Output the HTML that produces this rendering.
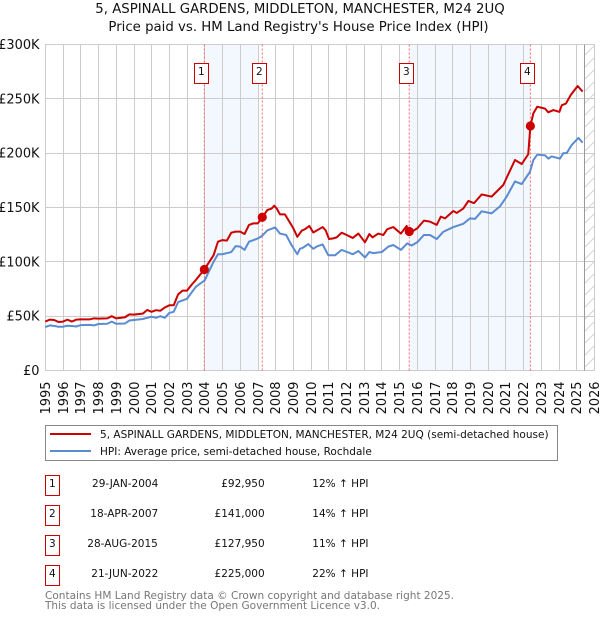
<!DOCTYPE html>
<html><head><meta charset="utf-8">
<style>
html,body{margin:0;padding:0;background:#fff;width:600px;height:620px;overflow:hidden}
svg{display:block}
text{font-family:"DejaVu Sans","Liberation Sans",sans-serif;fill:#111}
</style></head>
<body>
<svg id="chart" xmlns="http://www.w3.org/2000/svg" width="600" height="620" viewBox="0 0 600 620">
<defs><pattern id="hatch" patternUnits="userSpaceOnUse" width="12" height="12" x="584" y="8"><path d="M-1,13 L13,-1" stroke="#d4d4d4" stroke-width="1" fill="none"/></pattern></defs>
<text x="300" y="13" text-anchor="middle" font-size="13.3">5, ASPINALL GARDENS, MIDDLETON, MANCHESTER, M24 2UQ</text>
<text x="298.5" y="31" text-anchor="middle" font-size="13.3">Price paid vs. HM Land Registry's House Price Index (HPI)</text>
<g id="plot"></g>
<g>
<rect x="45.5" y="425.5" width="512" height="35" fill="#fff" stroke="#888" stroke-width="1"/>
<line x1="50" x2="91" y1="434" y2="434" stroke="#cc0000" stroke-width="2"/>
<text x="100" y="438" font-size="10.52">5, ASPINALL GARDENS, MIDDLETON, MANCHESTER, M24 2UQ (semi-detached house)</text>
<line x1="50" x2="91" y1="451" y2="451" stroke="#5b8bd0" stroke-width="2"/>
<text x="100" y="455" font-size="10.52">HPI: Average price, semi-detached house, Rochdale</text>
</g>
<g>
<g><rect x="45.5" y="475.5" width="14" height="20" fill="#fff" stroke="#cc0000"/><text x="52.3" y="487" text-anchor="middle" font-size="10.52">1</text><text x="92" y="487" font-size="10.52">29-JAN-2004</text><text x="264.7" y="487" text-anchor="end" font-size="10.52">£92,950</text><text x="312.3" y="487" font-size="10.52">12% ↑ HPI</text></g>
<g><rect x="45.5" y="505.5" width="14" height="20" fill="#fff" stroke="#cc0000"/><text x="52.3" y="517" text-anchor="middle" font-size="10.52">2</text><text x="90.3" y="517" font-size="10.52">18-APR-2007</text><text x="264.7" y="517" text-anchor="end" font-size="10.52">£141,000</text><text x="312.3" y="517" font-size="10.52">14% ↑ HPI</text></g>
<g><rect x="45.5" y="535.5" width="14" height="20" fill="#fff" stroke="#cc0000"/><text x="52.3" y="547" text-anchor="middle" font-size="10.52">3</text><text x="87.3" y="547" font-size="10.52">28-AUG-2015</text><text x="264.7" y="547" text-anchor="end" font-size="10.52">£127,950</text><text x="312.3" y="547" font-size="10.52">11% ↑ HPI</text></g>
<g><rect x="45.5" y="565.5" width="14" height="20" fill="#fff" stroke="#cc0000"/><text x="52.3" y="577" text-anchor="middle" font-size="10.52">4</text><text x="91.3" y="577" font-size="10.52">21-JUN-2022</text><text x="264.7" y="577" text-anchor="end" font-size="10.52">£225,000</text><text x="312.3" y="577" font-size="10.52">22% ↑ HPI</text></g>
</g>
<text x="45" y="599" font-size="10.52" style="fill:#777">Contains HM Land Registry data © Crown copyright and database right 2025.</text>
<text x="45" y="609" font-size="10.52" style="fill:#777">This data is licensed under the Open Government Licence v3.0.</text>
</svg>
<script>
const yearTicks = [1995,1996,1997,1998,1999,2000,2001,2002,2003,2004,2005,2006,2007,2008,2009,2010,2011,2012,2013,2014,2015,2016,2017,2018,2019,2020,2021,2022,2023,2024,2025,2026];
const valueTicks = [0,50,100,150,200,250,300];
const valueTickLabels = ['£0','£50K','£100K','£150K','£200K','£250K','£300K'];
const propertyDates = [1995,1995.25,1995.5,1995.75,1996,1996.25,1996.5,1996.75,1997,1997.5,1997.75,1998,1998.5,1998.75,1999,1999.5,1999.75,2000,2000.5,2000.75,2001,2001.25,2001.5,2001.75,2002,2002.25,2002.5,2002.75,2003,2003.25,2003.5,2003.98,2004.5,2004.75,2005,2005.25,2005.5,2005.75,2006,2006.25,2006.5,2006.75,2007,2007.25,2007.54,2007.78,2007.93,2008.07,2008.25,2008.53,2008.78,2009,2009.23,2009.48,2009.66,2009.91,2010.13,2010.66,2010.83,2011.02,2011.26,2011.45,2011.73,2012.02,2012.36,2012.68,2013.05,2013.3,2013.48,2013.8,2014.09,2014.31,2014.65,2015.08,2015.4,2015.55,2015.78,2016,2016.38,2016.72,2017.1,2017.33,2017.57,2018.04,2018.23,2018.6,2018.89,2019.21,2019.64,2020.2,2020.86,2021.15,2021.52,2021.9,2022.27,2022.33,2022.39,2022.56,2022.78,2023.22,2023.4,2023.69,2024.03,2024.16,2024.4,2024.67,2025.06,2025.34];
const propertyValues = [45,46.8,46.5,44.6,45,46.8,45,46.8,47,47,48,47.7,48,50,48,49,51.7,51.4,52.3,55.7,54,55.5,55,58,60,60,70,73.5,73.5,78.7,83.3,93,106,118.5,120,119.5,126.8,127.8,127.8,125.6,134,135.4,135.4,141,147.7,149,151.7,149,143.7,143.7,137,131,123,128.7,130,133,127,132,129,121,121.6,122.5,126.8,124.7,122,126,118,125.6,122.5,126,124.7,130,132,126,133,128,128.6,130.8,137.9,137,134,141.6,140,146.8,145,149,156,154,162,160,170.7,180.9,193.7,190,199,212,225,236.7,242.8,241,237.6,239.7,238,244,245.7,253.5,261.8,256.7];
const hpiDates = [1995,1995.25,1995.5,1995.75,1996,1996.25,1996.5,1996.75,1997,1997.5,1997.75,1998,1998.5,1998.75,1999,1999.5,1999.75,2000,2000.5,2001,2001.25,2001.5,2001.75,2002,2002.25,2002.5,2003,2003.5,2004,2004.5,2004.75,2005,2005.5,2005.75,2006,2006.25,2006.5,2007,2007.25,2007.54,2007.98,2008.25,2008.6,2008.9,2009.23,2009.38,2009.55,2009.85,2010.13,2010.32,2010.66,2010.98,2011.36,2011.73,2012.36,2012.68,2013.05,2013.3,2013.52,2014,2014.37,2014.65,2015.08,2015.44,2015.69,2016,2016.38,2016.72,2017.1,2017.48,2018.04,2018.6,2018.98,2019.26,2019.64,2020.2,2020.67,2021.05,2021.52,2021.9,2022.37,2022.56,2022.78,2023.22,2023.4,2023.59,2024.06,2024.25,2024.44,2024.72,2025.1,2025.34];
const hpiValues = [40,41.5,41,40.3,40.3,41.2,41,40.5,41.8,42,41.5,42.8,43,45,43,43.3,46,46.5,47.4,49.5,48.5,50,48.5,53,54,63,66,77,83,100,107,107,109,114.5,114,111,118.5,121.5,124,129,131.7,126,124.7,115.5,107,112,113,116.4,112,114,116,106,106,111,107,110,104,109,108,109,114,115.5,111,117,115,118,124.7,124.7,121,127.7,132,135,140,139.5,146.5,144.6,151,160,174,171.6,183,193.7,198.6,198,195,197,195,200,200,207.5,214,209.7];
const saleDates = [2003.98,2007.25,2015.55,2022.39];
const salePrices = [92.95,141,127.95,225];
const saleNumbers = ['1','2','3','4'];
const shadeStarts = [2003.98,2015.55];
const shadeEnds = [2007,2022.39];
const dataEndDate = 2025.45;
const plot = document.getElementById('plot');
const NS = 'http://www.w3.org/2000/svg';
const xScale = d => 45.3 + (d - 1995) * 17.71;
const yScale = v => 370.5 - v * 326 / 300;
const snap = p => Math.floor(p + 0.2) + 0.5;
function make(tag, attrs) {
  const el = document.createElementNS(NS, tag);
  for (const k in attrs) el.setAttribute(k, attrs[k]);
  plot.appendChild(el);
  return el;
}
shadeStarts.forEach((s, i) => {
  const el = make('rect', {x: xScale(s), y: 44.5, width: xScale(shadeEnds[i]) - xScale(s), height: 326, fill: '#f3f7fe'});
  
  
});
const hatchEl = make('rect', {x: xScale(dataEndDate), y: 44.5, width: 594.5 - xScale(dataEndDate), height: 326, fill: 'url(#hatch)'});


valueTicks.forEach((v, i) => {
  const line = make('line', {x1: 45, x2: 594.5, y1: Math.floor(yScale(v)) + 0.5, y2: Math.floor(yScale(v)) + 0.5, stroke: '#ccc', 'stroke-width': 1});
  
  
  const label = make('text', {x: 39.5, y: yScale(v) + 4.5, 'text-anchor': 'end', 'font-size': 12.9});
  label.textContent = valueTickLabels[i];
  
  
});
yearTicks.forEach(yr => {
  const x = snap(xScale(yr));
  const line = make('line', {x1: x, x2: x, y1: 44.5, y2: 370.5, stroke: '#ccc', 'stroke-width': 1});
  
  
  const label = make('text', {x: 0, y: 0, 'text-anchor': 'end', 'font-size': 12.9, transform: 'translate(' + (x + 4.5) + ',381.5) rotate(-90)'});
  label.textContent = String(yr);
  
  
});
const endLine = make('line', {x1: snap(xScale(dataEndDate)), x2: snap(xScale(dataEndDate)), y1: 44.5, y2: 370.5, stroke: '#999', 'stroke-width': 1});


saleDates.forEach(d => {
  const x = xScale(d);
  const el = make('line', {x1: x, x2: x, y1: 44.5, y2: 370.5, stroke: '#ff6666', 'stroke-width': 1, 'stroke-dasharray': '2 2'});
  
  
});
function pathFor(dates, values) {
  return dates.map((d, i) => (i ? 'L' : 'M') + xScale(d).toFixed(2) + ',' + yScale(values[i]).toFixed(2)).join(' ');
}
const hpiLine = make('path', {d: pathFor(hpiDates, hpiValues), fill: 'none', stroke: '#5b8bd0', 'stroke-width': 2, 'stroke-linejoin': 'round'});


const propertyLine = make('path', {d: pathFor(propertyDates, propertyValues), fill: 'none', stroke: '#cc0000', 'stroke-width': 2, 'stroke-linejoin': 'round'});


saleDates.forEach((d, i) => {
  const dot = make('circle', {cx: xScale(d), cy: yScale(salePrices[i]), r: 4.6, fill: '#cc0000'});
  
  
  const box = make('rect', {x: Math.floor(xScale(d)) - 9.5, y: 63.5, width: 14, height: 20, fill: '#fff', stroke: '#cc0000', 'stroke-width': 1});
  
  
  const num = make('text', {x: Math.floor(xScale(d)) - 2.7, y: 75, 'text-anchor': 'middle', 'font-size': 10.52});
  num.textContent = saleNumbers[i];
  
  
});
</script>
</body></html>
